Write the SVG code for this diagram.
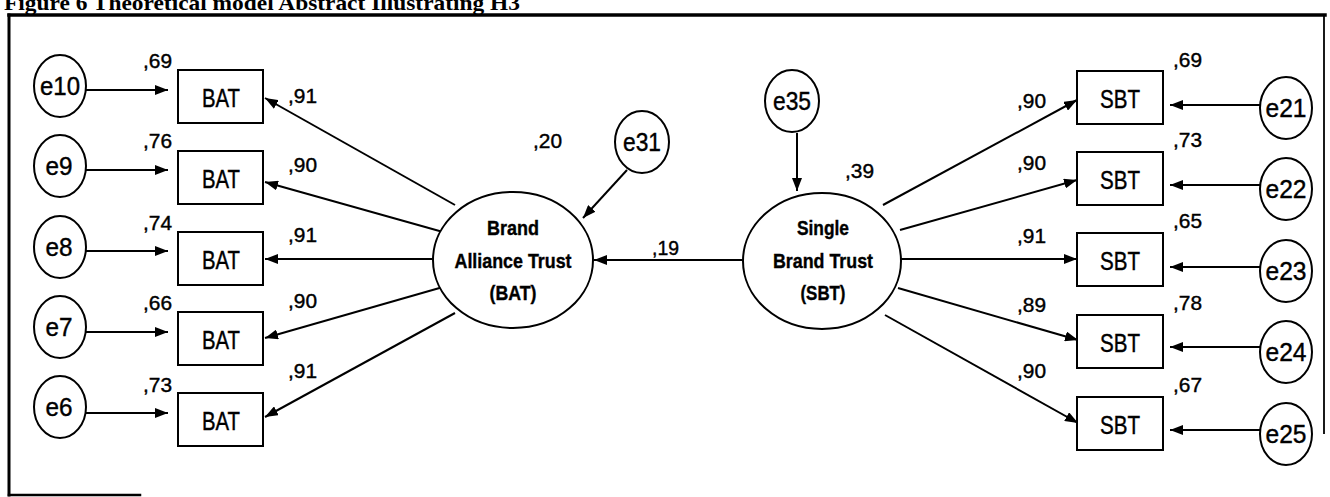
<svg xmlns="http://www.w3.org/2000/svg" width="1330" height="497" viewBox="0 0 1330 497">
<style>
.frame{fill:none;stroke:#000;stroke-linecap:square}
.box{fill:#fff;stroke:#000;stroke-width:2}
.circ{fill:#fff;stroke:#000;stroke-width:2}
.lat{fill:#fff;stroke:#000;stroke-width:2}
.con line{stroke:#000;stroke-width:2;marker-end:url(#ah)}
.t text{font-family:"Liberation Sans",Arial,sans-serif;fill:#000;stroke:#000;stroke-width:0.4}
.bx{font-size:25px;text-anchor:middle}
.el{font-size:25px;text-anchor:middle}
.num text{font-size:20px}
.lt{font-size:21px;font-weight:bold;text-anchor:middle}
.title{font-family:"Liberation Serif","Times New Roman",serif;font-weight:bold;font-size:22px;fill:#000}
</style>
<defs>
<marker id="ah" viewBox="0 0 13 10" refX="13" refY="5" markerWidth="13" markerHeight="10" markerUnits="userSpaceOnUse" orient="auto">
<path d="M0,0 L13,5 L0,10 z" fill="#000"/>
</marker>
</defs>
<rect width="1330" height="497" fill="#fff"/>
<text class="title" x="4" y="10" textLength="516" lengthAdjust="spacingAndGlyphs">Figure 6 Theoretical model Abstract Illustrating H3</text>
<g id="frame">
<line class="frame" x1="9" y1="15" x2="1325" y2="15" stroke-width="3.5"/>
<line class="frame" x1="9" y1="15" x2="9" y2="495" stroke-width="3"/>
<line class="frame" x1="9" y1="495" x2="140" y2="495" stroke-width="2.5"/>
<line class="frame" x1="1324" y1="15" x2="1324" y2="433" stroke-width="1.8"/>
</g>
<g id="connectors" class="con">
<line x1="86" y1="90" x2="168" y2="90"/>
<line x1="86" y1="170" x2="168" y2="170"/>
<line x1="86" y1="251" x2="168" y2="251"/>
<line x1="86" y1="332" x2="168" y2="332"/>
<line x1="86" y1="413" x2="168" y2="413"/>
<line x1="455" y1="205" x2="265" y2="98"/>
<line x1="443" y1="232" x2="265" y2="182"/>
<line x1="433" y1="259" x2="265" y2="259"/>
<line x1="443" y1="287" x2="265" y2="338"/>
<line x1="455" y1="313" x2="265" y2="417"/>
<line x1="627" y1="170" x2="583" y2="218"/>
<line x1="743" y1="260" x2="594" y2="260"/>
<line x1="797" y1="133" x2="797" y2="191"/>
<line x1="883" y1="205" x2="1077" y2="100"/>
<line x1="900" y1="230" x2="1077" y2="180"/>
<line x1="901" y1="259" x2="1077" y2="259"/>
<line x1="898" y1="288" x2="1078" y2="340"/>
<line x1="885" y1="315" x2="1078" y2="423"/>
<line x1="1260" y1="105" x2="1170" y2="105"/>
<line x1="1260" y1="185" x2="1170" y2="185"/>
<line x1="1260" y1="267" x2="1170" y2="267"/>
<line x1="1260" y1="347" x2="1170" y2="347"/>
<line x1="1260" y1="430" x2="1170" y2="430"/>
</g>
<g id="BAT" class="t">
<ellipse class="lat" cx="513" cy="260" rx="80" ry="68"/>
<text class="lt" x="513" y="235" textLength="52" lengthAdjust="spacingAndGlyphs">Brand</text>
<text class="lt" x="513" y="268" textLength="117" lengthAdjust="spacingAndGlyphs">Alliance Trust</text>
<text class="lt" x="513" y="300" textLength="47" lengthAdjust="spacingAndGlyphs">(BAT)</text>
</g>
<g id="SBT" class="t">
<ellipse class="lat" cx="822" cy="261" rx="79" ry="68"/>
<text class="lt" x="823" y="235" textLength="52" lengthAdjust="spacingAndGlyphs">Single</text>
<text class="lt" x="823" y="268" textLength="100" lengthAdjust="spacingAndGlyphs">Brand Trust</text>
<text class="lt" x="823" y="300" textLength="45" lengthAdjust="spacingAndGlyphs">(SBT)</text>
</g>
<g id="e31" class="t"><ellipse class="circ" cx="642" cy="142" rx="27" ry="31"/><text class="el" x="642" y="151" textLength="38" lengthAdjust="spacingAndGlyphs">e31</text></g>
<g id="e35" class="t"><ellipse class="circ" cx="792" cy="101" rx="27" ry="31"/><text class="el" x="792" y="110" textLength="38" lengthAdjust="spacingAndGlyphs">e35</text></g>
<g id="left-errors" class="t">
<g id="e10"><ellipse class="circ" cx="60" cy="86" rx="26" ry="31"/><text class="el" x="60" y="95" textLength="40" lengthAdjust="spacingAndGlyphs">e10</text></g>
<g id="e9"><ellipse class="circ" cx="60" cy="166" rx="26" ry="31"/><text class="el" x="59" y="175" textLength="27" lengthAdjust="spacingAndGlyphs">e9</text></g>
<g id="e8"><ellipse class="circ" cx="60" cy="247" rx="26" ry="31"/><text class="el" x="59" y="256" textLength="27" lengthAdjust="spacingAndGlyphs">e8</text></g>
<g id="e7"><ellipse class="circ" cx="60" cy="327" rx="26" ry="31"/><text class="el" x="59" y="336" textLength="27" lengthAdjust="spacingAndGlyphs">e7</text></g>
<g id="e6"><ellipse class="circ" cx="60" cy="407" rx="26" ry="31"/><text class="el" x="59" y="416" textLength="27" lengthAdjust="spacingAndGlyphs">e6</text></g>
</g>
<g id="left-boxes" class="t">
<g id="bat1"><rect class="box" x="178" y="70" width="85" height="53"/><text class="bx" x="221" y="107" textLength="38" lengthAdjust="spacingAndGlyphs">BAT</text></g>
<g id="bat2"><rect class="box" x="178" y="151" width="85" height="53"/><text class="bx" x="221" y="188" textLength="38" lengthAdjust="spacingAndGlyphs">BAT</text></g>
<g id="bat3"><rect class="box" x="178" y="232" width="85" height="53"/><text class="bx" x="221" y="269" textLength="38" lengthAdjust="spacingAndGlyphs">BAT</text></g>
<g id="bat4"><rect class="box" x="178" y="312" width="85" height="53"/><text class="bx" x="221" y="349" textLength="38" lengthAdjust="spacingAndGlyphs">BAT</text></g>
<g id="bat5"><rect class="box" x="178" y="393" width="85" height="53"/><text class="bx" x="221" y="430" textLength="38" lengthAdjust="spacingAndGlyphs">BAT</text></g>
</g>
<g id="right-boxes" class="t">
<g id="sbt1"><rect class="box" x="1077" y="71" width="86" height="53"/><text class="bx" x="1120" y="108" textLength="40" lengthAdjust="spacingAndGlyphs">SBT</text></g>
<g id="sbt2"><rect class="box" x="1077" y="152" width="86" height="53"/><text class="bx" x="1120" y="189" textLength="40" lengthAdjust="spacingAndGlyphs">SBT</text></g>
<g id="sbt3"><rect class="box" x="1077" y="233" width="86" height="53"/><text class="bx" x="1120" y="270" textLength="40" lengthAdjust="spacingAndGlyphs">SBT</text></g>
<g id="sbt4"><rect class="box" x="1077" y="315" width="86" height="53"/><text class="bx" x="1120" y="352" textLength="40" lengthAdjust="spacingAndGlyphs">SBT</text></g>
<g id="sbt5"><rect class="box" x="1077" y="397" width="86" height="53"/><text class="bx" x="1120" y="434" textLength="40" lengthAdjust="spacingAndGlyphs">SBT</text></g>
</g>
<g id="right-errors" class="t">
<g id="e21"><ellipse class="circ" cx="1286" cy="108" rx="26" ry="31"/><text class="el" x="1286" y="117" textLength="41" lengthAdjust="spacingAndGlyphs">e21</text></g>
<g id="e22"><ellipse class="circ" cx="1286" cy="189" rx="26" ry="31"/><text class="el" x="1286" y="198" textLength="41" lengthAdjust="spacingAndGlyphs">e22</text></g>
<g id="e23"><ellipse class="circ" cx="1286" cy="271" rx="26" ry="31"/><text class="el" x="1286" y="280" textLength="41" lengthAdjust="spacingAndGlyphs">e23</text></g>
<g id="e24"><ellipse class="circ" cx="1286" cy="352" rx="26" ry="31"/><text class="el" x="1286" y="361" textLength="41" lengthAdjust="spacingAndGlyphs">e24</text></g>
<g id="e25"><ellipse class="circ" cx="1286" cy="434" rx="26" ry="31"/><text class="el" x="1286" y="443" textLength="41" lengthAdjust="spacingAndGlyphs">e25</text></g>
</g>
<g id="labels" class="t num">
<text x="143" y="68" textLength="29" lengthAdjust="spacingAndGlyphs">,69</text>
<text x="143" y="148" textLength="29" lengthAdjust="spacingAndGlyphs">,76</text>
<text x="143" y="230" textLength="29" lengthAdjust="spacingAndGlyphs">,74</text>
<text x="143" y="310" textLength="29" lengthAdjust="spacingAndGlyphs">,66</text>
<text x="143" y="392" textLength="29" lengthAdjust="spacingAndGlyphs">,73</text>
<text x="288" y="103" textLength="29" lengthAdjust="spacingAndGlyphs">,91</text>
<text x="288" y="172" textLength="29" lengthAdjust="spacingAndGlyphs">,90</text>
<text x="288" y="242" textLength="29" lengthAdjust="spacingAndGlyphs">,91</text>
<text x="288" y="308" textLength="29" lengthAdjust="spacingAndGlyphs">,90</text>
<text x="288" y="378" textLength="29" lengthAdjust="spacingAndGlyphs">,91</text>
<text x="533" y="148" textLength="29" lengthAdjust="spacingAndGlyphs">,20</text>
<text x="652" y="255" textLength="27" lengthAdjust="spacingAndGlyphs">,19</text>
<text x="845" y="178" textLength="29" lengthAdjust="spacingAndGlyphs">,39</text>
<text x="1017" y="108" textLength="29" lengthAdjust="spacingAndGlyphs">,90</text>
<text x="1017" y="170" textLength="29" lengthAdjust="spacingAndGlyphs">,90</text>
<text x="1017" y="243" textLength="29" lengthAdjust="spacingAndGlyphs">,91</text>
<text x="1017" y="312" textLength="29" lengthAdjust="spacingAndGlyphs">,89</text>
<text x="1017" y="378" textLength="29" lengthAdjust="spacingAndGlyphs">,90</text>
<text x="1173" y="67" textLength="29" lengthAdjust="spacingAndGlyphs">,69</text>
<text x="1173" y="147" textLength="29" lengthAdjust="spacingAndGlyphs">,73</text>
<text x="1173" y="228" textLength="29" lengthAdjust="spacingAndGlyphs">,65</text>
<text x="1173" y="310" textLength="29" lengthAdjust="spacingAndGlyphs">,78</text>
<text x="1173" y="392" textLength="29" lengthAdjust="spacingAndGlyphs">,67</text>
</g>
</svg>
